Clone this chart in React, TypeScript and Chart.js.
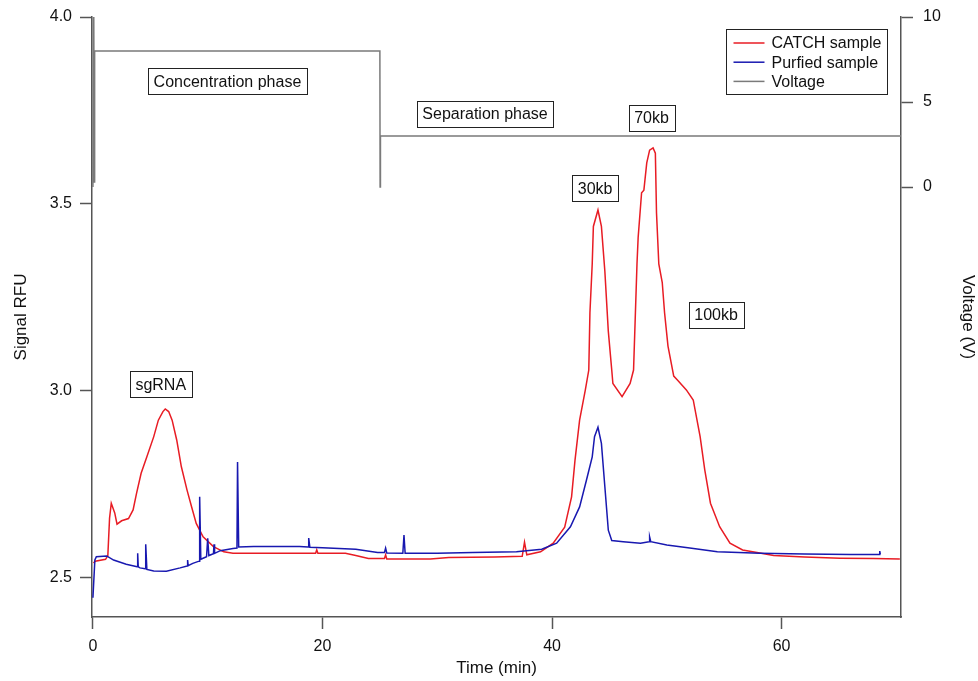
import { useEffect, useRef } from "react";
import { Chart, registerables } from "chart.js";

Chart.register(...registerables);

// ---- data ----
const catchTime = [
  0.05, 0.2, 1.1, 1.3, 1.45, 1.6, 1.9, 2.1, 2.5, 3.1, 3.5, 3.8, 4.2, 4.7, 5.3, 5.7, 6.1, 6.3, 6.6, 6.9,
  7.3, 7.7, 8.2, 8.6, 9.0, 9.6, 10.5, 11.4, 12.2, 15, 18, 19.4, 19.5, 19.6, 20, 22, 22.9, 24, 25.4, 25.5,
  25.6, 26, 29.4, 31, 35, 37.4, 37.6, 37.8, 39.0, 40.1, 41.1, 41.7, 42.0, 42.4, 42.9, 43.2, 43.3, 43.5, 43.6, 44.0,
  44.3, 44.6, 44.9, 45.2, 45.3, 46.1, 46.8, 47.1, 47.4, 47.5, 47.8, 48.0, 48.25, 48.5, 48.8, 49.0, 49.1, 49.3, 49.6, 49.8,
  50.1, 50.6, 50.9, 51.7, 52.3, 52.9, 53.3, 53.8, 54.6, 55.5, 56.6, 58.1, 59.3, 62, 65.1, 68, 70.3,
];
const catchSignal = [
  2.54, 2.545, 2.55, 2.56, 2.66, 2.70, 2.674, 2.644, 2.653, 2.659, 2.682, 2.726, 2.78, 2.824, 2.878, 2.922, 2.945, 2.952, 2.945, 2.922,
  2.869, 2.798, 2.735, 2.69, 2.646, 2.61, 2.584, 2.57, 2.566, 2.566, 2.566, 2.566, 2.575, 2.566, 2.566, 2.566, 2.56, 2.552, 2.552, 2.562,
  2.551, 2.551, 2.551, 2.555, 2.556, 2.558, 2.596, 2.562, 2.57, 2.593, 2.636, 2.717, 2.815, 2.922, 3.003, 3.056, 3.21, 3.34, 3.44, 3.484,
  3.44, 3.32, 3.16, 3.056, 3.02, 2.985, 3.02, 3.056, 3.34, 3.41, 3.53, 3.537, 3.61, 3.644, 3.65, 3.636, 3.476, 3.34, 3.29, 3.21,
  3.12, 3.04, 3.03, 3.003, 2.976, 2.878, 2.79, 2.70, 2.637, 2.593, 2.575, 2.567, 2.56, 2.556, 2.553, 2.552, 2.551,
];

const purifiedTime = [
  0, 0.17, 0.3, 1.2, 1.8, 2.9, 3.85, 3.9, 3.95, 4.1, 4.55, 4.6, 4.7, 5.3, 6.4, 7.6, 8.2, 8.25, 8.3, 8.7,
  9.25, 9.3, 9.4, 9.9, 10.0, 10.1, 10.5, 10.55, 10.6, 11.1, 12.2, 12.55, 12.6, 12.7, 14.0, 18.0, 18.75, 18.8, 18.9, 20,
  22.9, 24.8, 25.4, 25.5, 25.6, 27.0, 27.1, 27.2, 30, 33.1, 36.9, 39.1, 40.4, 41.6, 42.4, 43.0, 43.5, 43.7, 44.0, 44.3,
  44.6, 44.9, 45.2, 46.2, 47.7, 48.45, 48.5, 48.6, 50.0, 52.0, 54.4, 58.1, 62, 66, 68.5, 68.55, 68.6,
];
const purifiedSignal = [
  2.447, 2.548, 2.557, 2.559, 2.548, 2.537, 2.53, 2.566, 2.53, 2.527, 2.525, 2.59, 2.523, 2.519, 2.518, 2.527, 2.532, 2.548, 2.533, 2.539,
  2.545, 2.717, 2.55, 2.557, 2.606, 2.56, 2.565, 2.59, 2.566, 2.573, 2.579, 2.58, 2.81, 2.583, 2.584, 2.584, 2.583, 2.607, 2.582, 2.581,
  2.577, 2.568, 2.568, 2.58, 2.567, 2.566, 2.615, 2.566, 2.566, 2.568, 2.57, 2.577, 2.593, 2.637, 2.69, 2.762, 2.824, 2.878, 2.903, 2.86,
  2.744, 2.628, 2.60, 2.597, 2.593, 2.597, 2.61, 2.597, 2.588, 2.58, 2.57, 2.566, 2.564, 2.563, 2.563, 2.572, 2.563,
];

const voltageTime = [0, 0.03, 0.06, 0.09, 0.12, 0.15, 25.0, 25.02, 25.05, 70.4];
const voltageValue = [0, 10, 0.5, 10, 0.3, 8, 8, 0, 3, 3];

const timeTicks = [0, 20, 40, 60];
const signalTicks = [2.5, 3.0, 3.5, 4.0];
const voltageTicks = [0, 5, 10];

const noteLabels = ["Concentration phase", "Separation phase", "sgRNA", "30kb", "70kb", "100kb"];
const noteTime = [11.72, 34.16, 5.91, 43.75, 48.67, 54.29];
const noteSignal = [3.828, 3.741, 3.018, 3.542, 3.731, 3.203];

const FONT = '"Liberation Sans", Arial, Helvetica, sans-serif';
const AXIS = "#555555";

const toPoints = (xs: number[], ys: number[]) => xs.map((x, i) => ({ x, y: ys[i] }));

const notesPlugin = {
  id: "notes",
  afterDatasetsDraw(chart: any) {
    const { ctx, scales } = chart;
    const x = scales.x;
    const y = scales.y;
    ctx.save();
    ctx.font = `16px ${FONT}`;
    ctx.textAlign = "center";
    ctx.textBaseline = "middle";
    noteLabels.forEach((t, i) => {
      const px = x.getPixelForValue(noteTime[i]);
      const py = y.getPixelForValue(noteSignal[i]);
      const w = Math.round(ctx.measureText(t).width + 11);
      const h = 26;
      const left = Math.round(px - w / 2) + 0.5;
      const top = Math.round(py - h / 2) + 0.5;
      ctx.fillStyle = "#ffffff";
      ctx.fillRect(left, top, w, h);
      ctx.strokeStyle = "#222222";
      ctx.lineWidth = 1;
      ctx.strokeRect(left, top, w, h);
      ctx.fillStyle = "#111111";
      ctx.fillText(t, px, py + 1);
    });
    ctx.restore();
  },
};

const legendPlugin = {
  id: "boxLegend",
  afterDraw(chart: any) {
    const { ctx, chartArea } = chart;
    const sets = chart.data.datasets;
    ctx.save();
    ctx.font = `16px ${FONT}`;
    let maxW = 0;
    sets.forEach((d: any) => {
      maxW = Math.max(maxW, ctx.measureText(d.label).width);
    });
    const w = Math.round(45 + maxW + 6);
    const rowH = 19.2;
    const h = 65;
    const right = chartArea.right - 14;
    const left = Math.round(right - w) + 0.5;
    const top = Math.round(chartArea.top + 12) + 0.5;
    ctx.fillStyle = "#ffffff";
    ctx.fillRect(left, top, w, h);
    ctx.strokeStyle = "#222222";
    ctx.lineWidth = 1;
    ctx.strokeRect(left, top, w, h);
    ctx.textAlign = "left";
    ctx.textBaseline = "middle";
    sets.forEach((d: any, i: number) => {
      const cy = top + 13.5 + i * rowH;
      ctx.strokeStyle = d.borderColor;
      ctx.lineWidth = 1.5;
      ctx.beginPath();
      ctx.moveTo(left + 7, cy);
      ctx.lineTo(left + 38, cy);
      ctx.stroke();
      ctx.fillStyle = "#111111";
      ctx.fillText(d.label, left + 45, cy + 1);
    });
    ctx.restore();
  },
};

const fitVertical = (w: number) => (s: any) => {
  s.width = w;
  s.paddingTop = 0;
  s.paddingBottom = 0;
};

export default function App() {
  const ref = useRef<HTMLCanvasElement | null>(null);

  useEffect(() => {
    if (!ref.current) return;
    const tickFont = { family: FONT, size: 16 };
    const titleFont = { family: FONT, size: 17 };
    const chart = new Chart(ref.current, {
      type: "line",
      data: {
        datasets: [
          {
            label: "CATCH sample",
            data: toPoints(catchTime, catchSignal),
            borderColor: "rgb(232,28,36)",
            borderWidth: 1.5,
            pointRadius: 0,
            yAxisID: "y",
            order: 1,
          },
          {
            label: "Purfied sample",
            data: toPoints(purifiedTime, purifiedSignal),
            borderColor: "rgb(24,24,176)",
            borderWidth: 1.5,
            pointRadius: 0,
            yAxisID: "y",
            order: 0,
          },
          {
            label: "Voltage",
            data: toPoints(voltageTime, voltageValue),
            borderColor: "rgb(122,122,122)",
            borderWidth: 1.5,
            pointRadius: 0,
            yAxisID: "y2",
            order: 2,
          },
        ],
      },
      options: {
        responsive: false,
        animation: false,
        parsing: true,
        layout: { padding: { top: 17, left: 0, right: 0, bottom: 0 } },
        plugins: {
          legend: { display: false },
          tooltip: { enabled: false },
        },
        elements: { line: { tension: 0 } },
        scales: {
          x: {
            type: "linear",
            min: -0.08,
            max: 70.4,
            afterBuildTicks: (s: any) => {
              s.ticks = timeTicks.map((v) => ({ value: v }));
            },
            afterFit: (s: any) => {
              s.height = 64;
              s.paddingLeft = 0;
              s.paddingRight = 0;
            },
            grid: {
              drawOnChartArea: false,
              drawTicks: true,
              tickLength: 12,
              tickColor: AXIS,
              tickWidth: 1.5,
            },
            border: { display: true, color: AXIS, width: 1.5 },
            ticks: {
              font: tickFont,
              color: "#111",
              padding: 8,
              maxRotation: 0,
              callback: (v: any) => String(v),
            },
            title: {
              display: true,
              text: "Time (min)",
              font: titleFont,
              color: "#111",
              padding: { top: 0, bottom: 2 },
            },
          },
          y: {
            type: "linear",
            position: "left",
            min: 2.3957,
            max: 4.0,
            afterBuildTicks: (s: any) => {
              s.ticks = signalTicks.map((v) => ({ value: v }));
            },
            afterFit: fitVertical(92),
            grid: {
              drawOnChartArea: false,
              drawTicks: true,
              tickLength: 12,
              tickColor: AXIS,
              tickWidth: 1.5,
            },
            border: { display: true, color: AXIS, width: 1.5 },
            ticks: {
              font: tickFont,
              color: "#111",
              padding: 8,
              callback: (v: any) => Number(v).toFixed(1),
            },
            title: {
              display: true,
              text: "Signal RFU",
              font: titleFont,
              color: "#111",
              padding: { top: 11, bottom: 0 },
            },
          },
          y2: {
            type: "linear",
            position: "right",
            min: -25.29,
            max: 10,
            afterBuildTicks: (s: any) => {
              s.ticks = voltageTicks.map((v) => ({ value: v }));
            },
            afterFit: fitVertical(77),
            grid: {
              drawOnChartArea: false,
              drawTicks: true,
              tickLength: 12,
              tickColor: AXIS,
              tickWidth: 1.5,
            },
            border: { display: true, color: AXIS, width: 1.5 },
            ticks: {
              font: tickFont,
              color: "#111",
              padding: 10,
              callback: (v: any) => String(v),
            },
            title: {
              display: true,
              text: "Voltage (V)",
              font: titleFont,
              color: "#111",
              padding: { top: 0, bottom: 0 },
            },
          },
        },
      },
      plugins: [notesPlugin, legendPlugin],
    } as any);
    return () => chart.destroy();
  }, []);

  return (
    <div style={{ position: "fixed", left: 0, top: 0, width: 978, height: 681, background: "#fff" }}>
      <canvas ref={ref} width={978} height={681} style={{ width: 978, height: 681, display: "block" }} />
    </div>
  );
}
